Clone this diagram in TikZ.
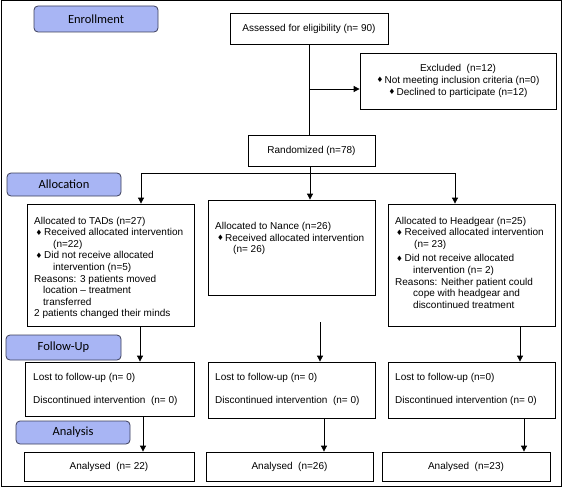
\documentclass[tikz,border=0pt]{standalone}
\usepackage{fontspec}
\setmainfont{Liberation Sans}
\newfontfamily\stagefont{Carlito}
\newfontfamily\dvfont{DejaVu Sans}
\usetikzlibrary{arrows.meta}
\definecolor{stagefill}{RGB}{168,181,244}
\definecolor{stageline}{RGB}{60,62,90}
\newcommand\bul{\makebox[8pt][l]{\raisebox{0.3pt}{\dvfont\fontsize{7.5}{7.5}\selectfont ♦}}}
\begin{document}
\begin{tikzpicture}[x=1pt,y=-1pt,
  box/.style={draw=black,line width=0.8pt,minimum width=#1,inner sep=0pt,font=\fontsize{10}{11.6}\selectfont},
  stage/.style={draw=stageline,fill=stagefill,rounded corners=4pt,line width=0.8pt,minimum width=#1,minimum height=24pt,inner sep=0pt,font=\stagefont\fontsize{12.5}{14}\selectfont},
  txt/.style={anchor=north west,align=left,inner sep=0pt,font=\fontsize{10}{11.6}\selectfont},
  arr/.style={line width=0.8pt,-{Triangle[length=6pt,width=6pt]}},
  ln/.style={line width=0.8pt}]
\useasboundingbox (0,0) rectangle (562,487);
\draw[line width=1pt] (1,1) rectangle (561,486);
% stage labels
\node[stage=124pt,minimum height=26pt] (enroll) at (96,19) {Enrollment};
\node[stage=114pt,minimum height=23pt] (alloc) at (64,184.5) {Allocation};
\node[stage=115pt,minimum height=25pt] (follow) at (63.5,347.5) {Follow-Up};
\node[stage=114pt,minimum height=23pt] (anal) at (73,432.5) {Analysis};
% enrollment boxes
\node[box=158pt,minimum height=31pt] (assess) at (309,28.5) {Assessed for eligibility (n= 90)};
\node[box=196pt,minimum height=56pt] (excl) at (458,81) {};
\node[anchor=center,align=center,inner sep=0pt,font=\fontsize{10}{12}\selectfont] (excltxt) at (458,80.5)
  {Excluded~~(n=12)\\\bul Not meeting inclusion criteria (n=0)\\\bul Declined to participate (n=12)};
\node[box=127pt,minimum height=31pt] (rand) at (311.5,150.5) {Randomized (n=78)};
% allocation boxes
\node[box=167pt,minimum height=122pt] (tads) at (110.5,265) {};
\node[box=167pt,minimum height=95pt] (nance) at (291.5,247.5) {};
\node[box=167pt,minimum height=122pt] (head) at (471.5,265) {};
\node[txt] (tadstxt) at (34,216.6) {Allocated to TADs (n=27)\\
  \hspace*{1.5pt}\bul\hspace*{0.5pt}Received allocated intervention\\
  \hspace*{19pt}(n=22)\\
  \hspace*{1.5pt}\bul\hspace*{0.5pt}Did not receive allocated\\
  \hspace*{19pt}intervention (n=5)\\
  Reasons: 3 patients moved\\
  \hspace*{9pt}location -- treatment\\
  \hspace*{9pt}transferred\\
  2 patients changed their minds};
\node[txt] (nancetxt) at (215,222) {Allocated to Nance (n=26)\\
  \hspace*{2pt}\bul Received allocated intervention\\
  \hspace*{18pt}(n= 26)};
\node[txt] (headtxt) at (395,216.6) {Allocated to Headgear (n=25)\\
  \hspace*{1pt}\bul\hspace*{0.5pt}Received allocated intervention\\
  \hspace*{19pt}(n= 23)\\[3pt]
  \hspace*{1pt}\bul\hspace*{0.5pt}Did not receive allocated\\
  \hspace*{18pt}intervention (n= 2)\\
  Reasons: Neither patient could\\
  \hspace*{18pt}cope with headgear and\\
  \hspace*{18pt}discontinued treatment};
% follow-up boxes
\node[box=169pt,minimum height=54pt] (fu1) at (109.5,389) {};
\node[box=167pt,minimum height=56pt] (fu2) at (291.5,390) {};
\node[box=167pt,minimum height=56pt] (fu3) at (471.5,390) {};
\node[txt,font=\fontsize{10}{23}\selectfont] (fu1txt) at (33,373.5) {Lost to follow-up (n= 0)\\Discontinued intervention~~(n= 0)};
\node[txt,font=\fontsize{10}{23}\selectfont] (fu2txt) at (215,373.5) {Lost to follow-up (n= 0)\\Discontinued intervention~~(n= 0)};
\node[txt,font=\fontsize{10}{23}\selectfont] (fu3txt) at (395,373.5) {Lost to follow-up (n=0)\\Discontinued intervention (n= 0)};
% analysis boxes
\node[box=170pt,minimum height=29pt] (an1) at (109,466.5) {Analysed~~(n= 22)};
\node[box=167pt,minimum height=29pt] (an2) at (289.5,466.5) {Analysed~~(n=26)};
\node[box=168pt,minimum height=29pt] (an3) at (466,466.5) {Analysed~~(n=23)};
% connectors
\coordinate (exc) at (309,89);
\draw[ln] (assess.south) -- (assess.south |- rand.north);
\draw[arr] (exc) -- (exc -| excl.west);
\coordinate (split) at (310,173);
\coordinate (hl) at (141,173);
\coordinate (hr) at (455,173);
\draw[ln] (rand.south -| split) -- (split);
\draw[ln] (hl) -- (hr);
\draw[arr] (hl) -- (hl |- tads.north);
\draw[arr] (split) -- (split |- nance.north);
\draw[arr] (hr) -- (hr |- head.north);
\coordinate (c1) at (140,0);
\coordinate (m2) at (320,322);
\coordinate (c3) at (520,0);
\draw[arr] (tads.south -| c1) -- (fu1.north -| c1);
\draw[arr] (m2) -- (m2 |- fu2.north);
\draw[arr] (head.south -| c3) -- (fu3.north -| c3);
\coordinate (d1) at (143,0);
\coordinate (d2) at (324,0);
\coordinate (d3) at (524,0);
\draw[arr] (fu1.south -| d1) -- (an1.north -| d1);
\draw[arr] (fu2.south -| d2) -- (an2.north -| d2);
\draw[arr] (fu3.south -| d3) -- (an3.north -| d3);
\end{tikzpicture}
\end{document}
